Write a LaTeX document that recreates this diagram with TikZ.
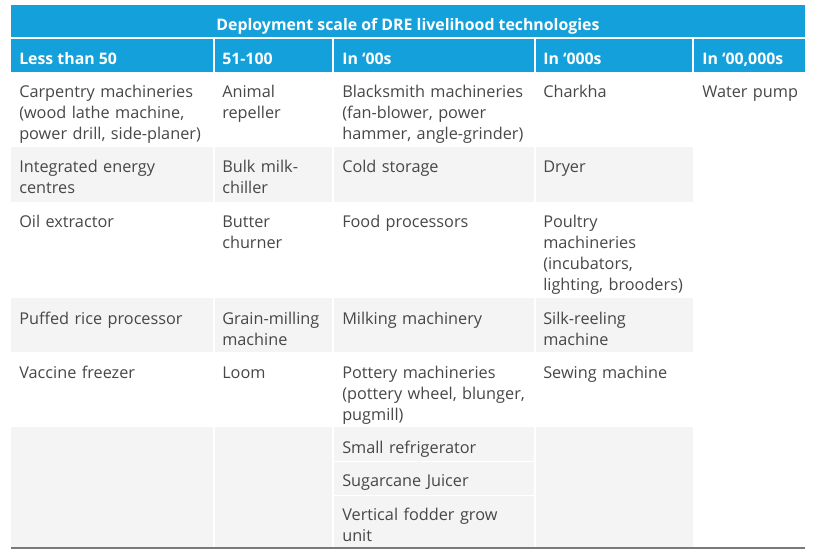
\documentclass[tikz,border=0pt]{standalone}
\usepackage{fontspec}
\setmainfont{Open Sans}
\definecolor{headblue}{HTML}{14A0DA}
\definecolor{rowgray}{HTML}{F4F4F4}
\definecolor{celltext}{HTML}{474747}
\definecolor{rulegray}{HTML}{7A7A7A}
\begin{document}
\begin{tikzpicture}[x=0.75pt,y=-0.75pt,line join=round,font=\fontsize{12.2}{15.75}\selectfont]
    \tikzset{cell/.style={anchor=north west,inner sep=0pt,text width=150pt,align=left,text=celltext,execute at begin node=\strut},
             head/.style={anchor=base west,inner sep=0pt,text=white,font=\fontsize{11.9}{15.75}\selectfont\bfseries}}
    \useasboundingbox (0,0) rectangle (820,553);
    % header band
    \fill[headblue] (11,5) rectangle (805,72);
    \draw[white,line width=1.2] (11,38) -- (805,38);
    \foreach \x in {214,333,535,693} \draw[white,line width=1.5] (\x,38) -- (\x,72);
    \node[head,anchor=base] (title) at (408,30) {Deployment scale of DRE livelihood technologies};
    \foreach \x/\t [count=\i] in {19/Less than 50,222/51-100,342/In ‘00s,543/In ‘000s,702/{In ‘00,000s}}
        \node[head] (h\i) at (\x,64) {\t};
    % shaded rows
    \foreach \ya/\yb in {147/202,298/352,427/548} {
        \fill[rowgray] (11,\ya) rectangle (693,\yb);
        \foreach \x in {214,333,535} \draw[white,line width=2] (\x,\ya) -- (\x,\yb);
    }
    \draw[white,line width=0.5] (333,461) -- (535,461) (333,495) -- (535,495);
    \draw[rulegray,line width=1.6] (11,548) -- (805,548);
    % row 1
    \node[cell] (c11) at (19,82.3) {Carpentry machineries\\(wood lathe machine,\\power drill, side-planer)};
    \node[cell] (c12) at (222,82.3) {Animal\\repeller};
    \node[cell] (c13) at (342,82.3) {Blacksmith machineries\\(fan-blower, power\\hammer, angle-grinder)};
    \node[cell] (c14) at (543,82.3) {Charkha};
    \node[cell] (c15) at (702,82.3) {Water pump};
    % row 2
    \node[cell] (c21) at (19,157.3) {Integrated energy\\centres};
    \node[cell] (c22) at (222,157.3) {Bulk milk-\\chiller};
    \node[cell] (c23) at (342,157.3) {Cold storage};
    \node[cell] (c24) at (543,157.3) {Dryer};
    % row 3
    \node[cell] (c31) at (19,212.3) {Oil extractor};
    \node[cell] (c32) at (222,212.3) {Butter\\churner};
    \node[cell] (c33) at (342,212.3) {Food processors};
    \node[cell] (c34) at (543,212.3) {Poultry\\machineries\\(incubators,\\lighting, brooders)};
    % row 4
    \node[cell] (c41) at (19,309.3) {Puffed rice processor};
    \node[cell] (c42) at (222,309.3) {Grain-milling\\machine};
    \node[cell] (c43) at (342,309.3) {Milking machinery};
    \node[cell] (c44) at (543,309.3) {Silk-reeling\\machine};
    % row 5
    \node[cell] (c51) at (19,363.3) {Vaccine freezer};
    \node[cell] (c52) at (222,363.3) {Loom};
    \node[cell] (c53) at (342,363.3) {Pottery machineries\\(pottery wheel, blunger,\\pugmill)};
    \node[cell] (c54) at (543,363.3) {Sewing machine};
    % row 6
    \node[cell] (c63a) at (342,438.3) {Small refrigerator};
    \node[cell] (c63b) at (342,471.3) {Sugarcane Juicer};
    \node[cell] (c63c) at (342,505.3) {Vertical fodder grow\\unit};
\end{tikzpicture}
\end{document}
